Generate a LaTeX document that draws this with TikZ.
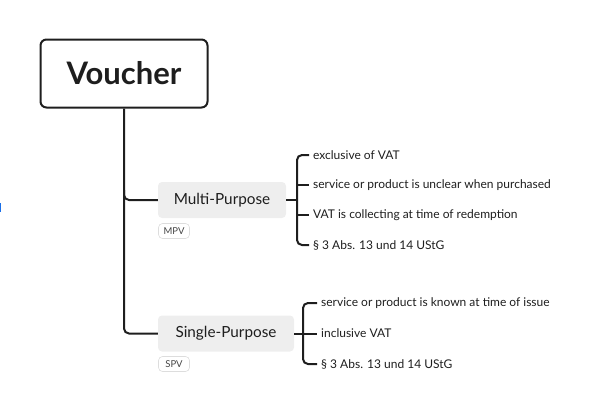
\documentclass[tikz,border=0pt]{standalone}
\usepackage{fontspec}
\setmainfont{Lato}
\definecolor{ink}{HTML}{1E1E1E}
\definecolor{boxgray}{HTML}{EEEEEE}
\definecolor{taggray}{HTML}{DDDDDD}
\definecolor{tagtext}{HTML}{444444}
\definecolor{markblue}{HTML}{1A6FE8}
\begin{document}
\begin{tikzpicture}[x=1pt,y=-1pt,
  conn/.style={draw=ink,line width=2pt,rounded corners=5pt},
  rootbox/.style={draw=ink,line width=2pt,rounded corners=6pt,minimum width=167pt,minimum height=68pt,inner sep=0pt,font=\fontsize{31}{34}\selectfont\bfseries,text=ink},
  topicbox/.style={fill=boxgray,rounded corners=4pt,minimum height=36pt,inner sep=0pt,font=\fontsize{15.3}{17}\selectfont,text=ink},
  tagbox/.style={draw=taggray,fill=white,line width=0.6pt,rounded corners=4pt,minimum width=31pt,minimum height=15pt,inner sep=0pt,font=\fontsize{9.5}{10}\selectfont,text=tagtext},
  leaf/.style={anchor=west,inner sep=0pt,font=\fontsize{12}{14}\selectfont,text=ink},
]
\useasboundingbox (0,0) rectangle (595,413);
\fill[markblue] (0,203) rectangle (1.2,212);

\node[rootbox] (v) at (124,73.5) {Voucher};
\node[topicbox,minimum width=128pt] (mp) at (222,200) {Multi-Purpose};
\node[topicbox,minimum width=136pt] (sp) at (226,333.5) {Single-Purpose};
\node[tagbox] (mpv) at (174,231) {MPV};
\node[tagbox] (spv) at (174,364) {SPV};

% MPV leaves
\node[leaf] (m1) at (313,155) {exclusive of VAT};
\node[leaf] (m2) at (313,185) {service or product is unclear when purchased};
\node[leaf] (m3) at (313,215) {VAT is collecting at time of redemption};
\node[leaf] (m4) at (313,245) {§ 3 Abs. 13 und 14 UStG};
% SPV leaves
\node[leaf] (s1) at (321,303) {service or product is known at time of issue};
\node[leaf] (s2) at (321,333.5) {inclusive VAT};
\node[leaf] (s3) at (321,364) {§ 3 Abs. 13 und 14 UStG};

% trunk
\coordinate (tj) at (124,190);
\draw[conn] (v.south) |- (sp.west);
\draw[conn] (tj) |- (mp.west);

% MPV bracket
\coordinate (mb) at (297,200);
\draw[conn] (mp.east) -- (mb);
\draw[conn] ([xshift=-4pt]m1.west) -| (mb) |- ([xshift=-4pt]m4.west);
\draw[conn] (mb |- m2.west) -- ([xshift=-4pt]m2.west);
\draw[conn] (mb |- m3.west) -- ([xshift=-4pt]m3.west);

% SPV bracket
\coordinate (sb) at (303,333.5);
\draw[conn] (sp.east) -- ([xshift=-4pt]s2.west);
\draw[conn] ([xshift=-4pt]s1.west) -| (sb) |- ([xshift=-4pt]s3.west);
\end{tikzpicture}
\end{document}
